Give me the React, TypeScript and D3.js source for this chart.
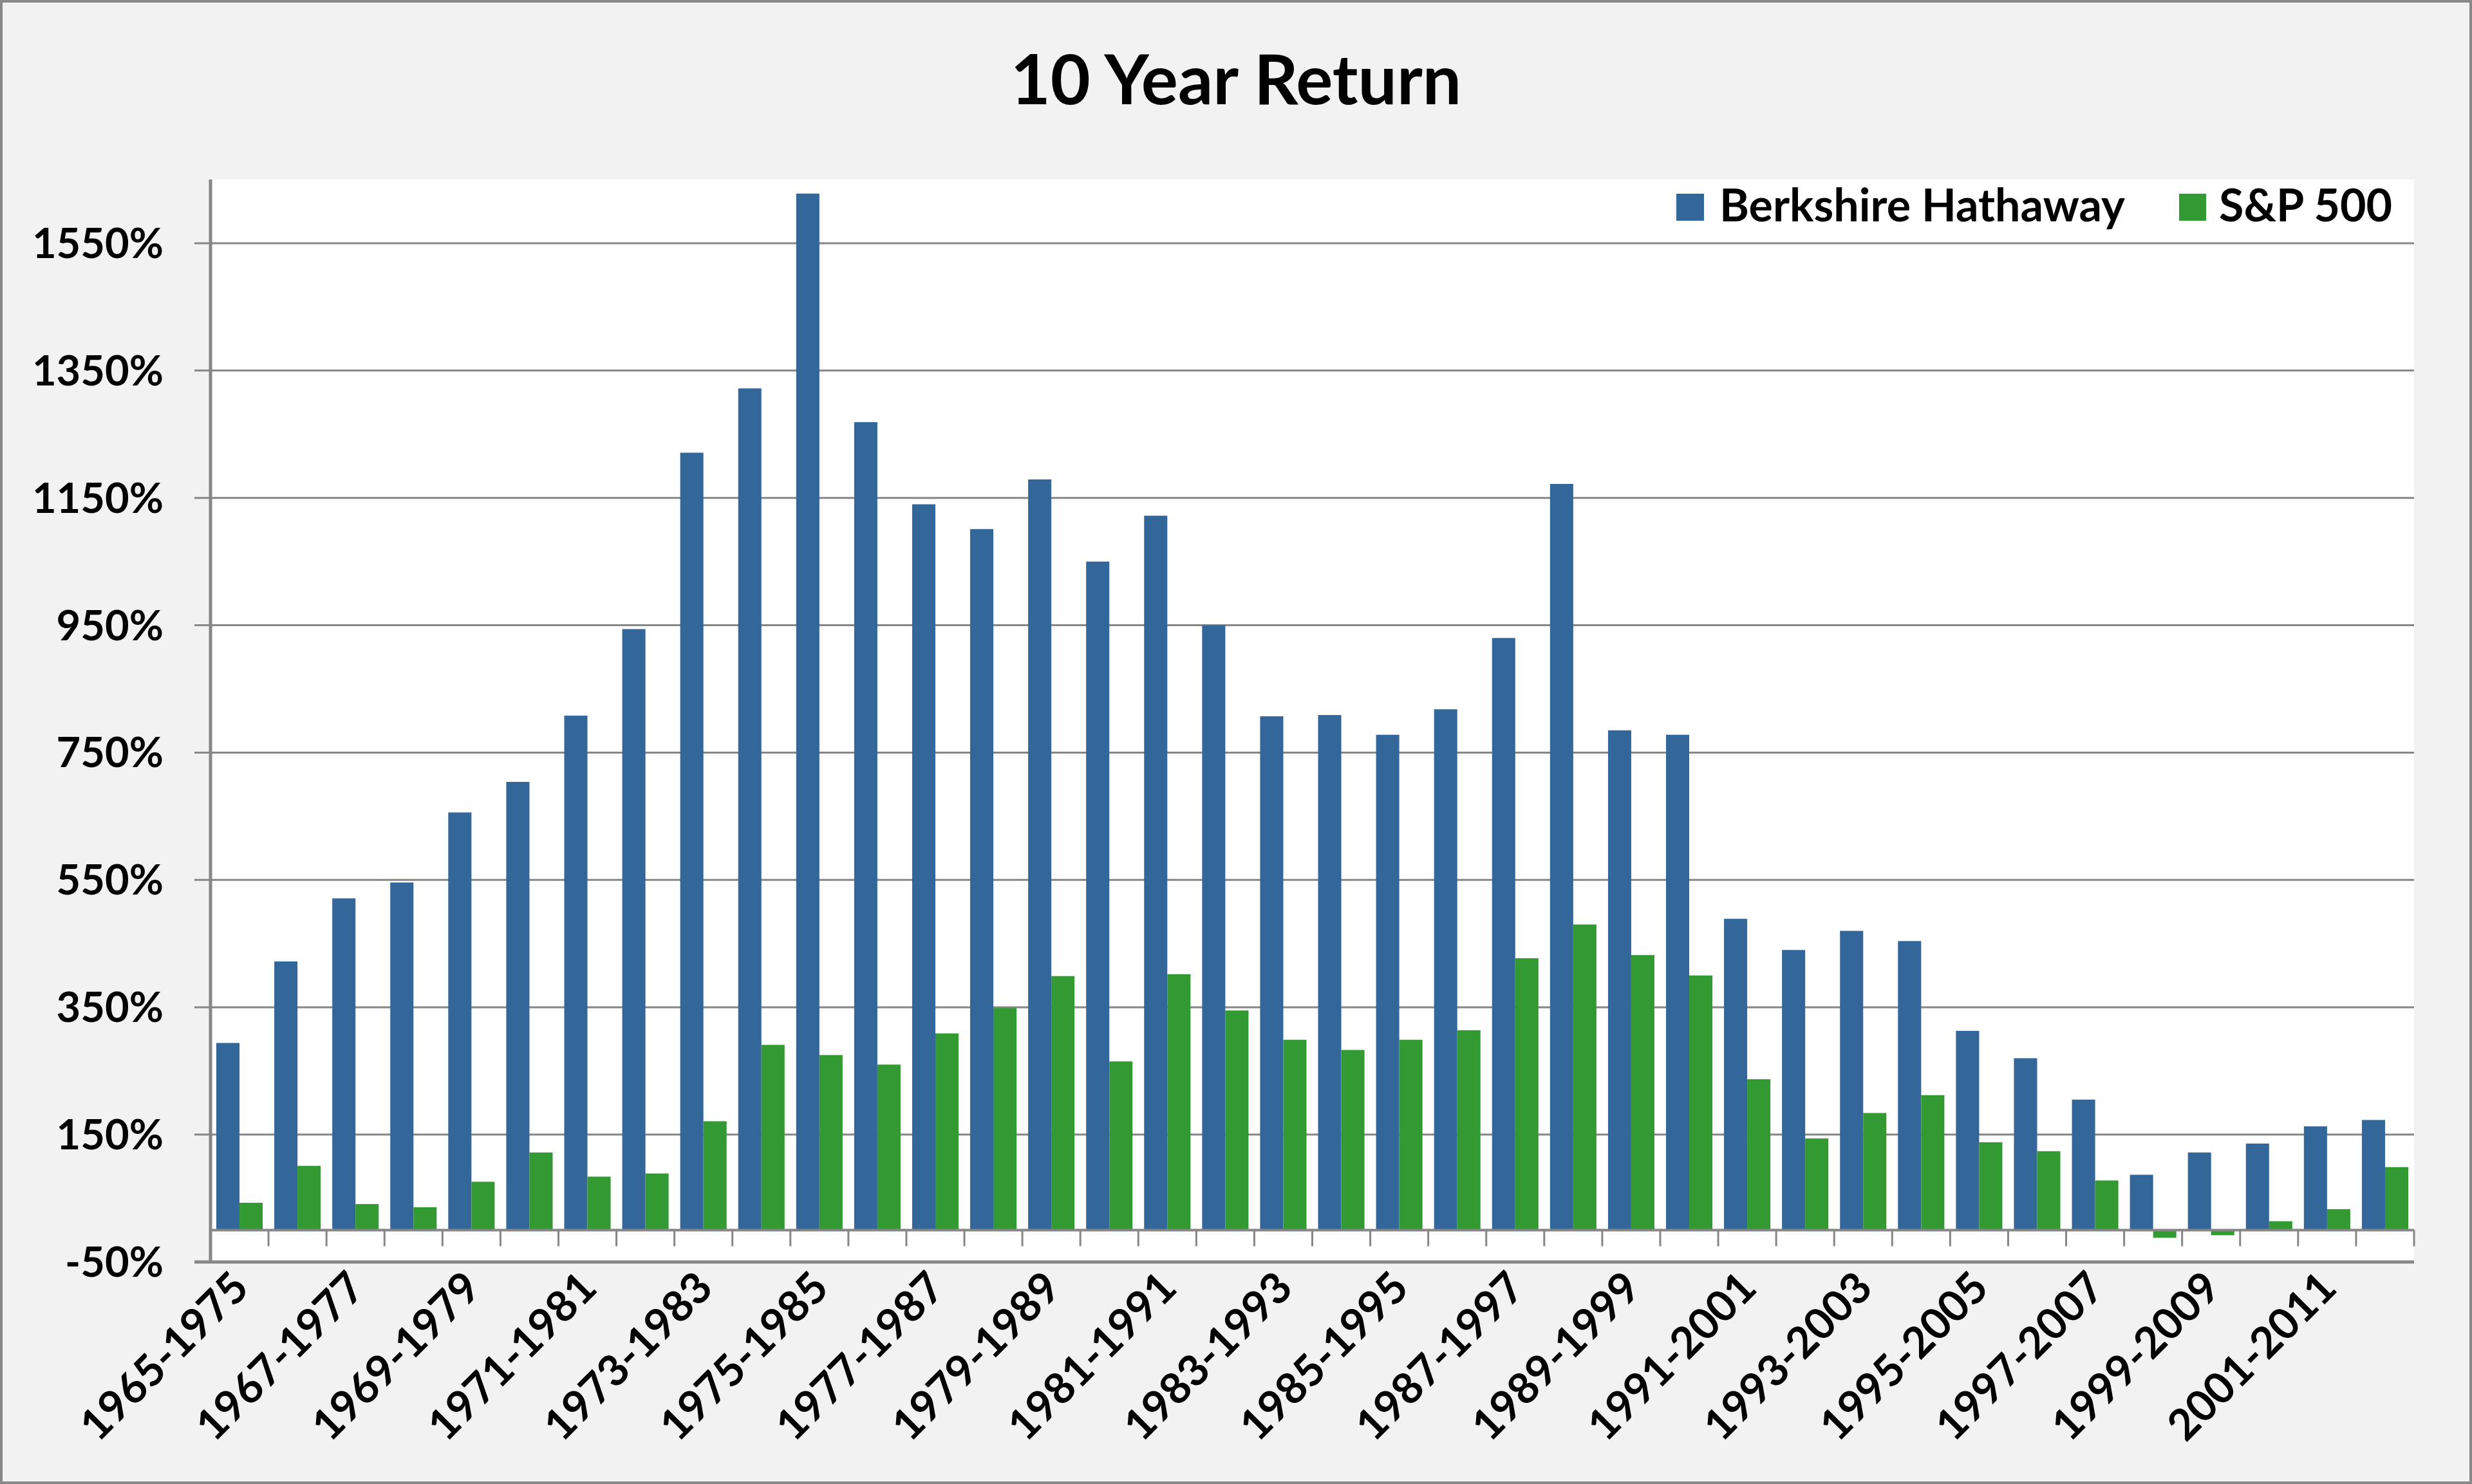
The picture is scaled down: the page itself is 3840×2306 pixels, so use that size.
import React from 'react';
import * as d3 from 'd3';

const categories = [
  '1965-1975', '1966-1976', '1967-1977', '1968-1978', '1969-1979', '1970-1980',
  '1971-1981', '1972-1982', '1973-1983', '1974-1984', '1975-1985', '1976-1986',
  '1977-1987', '1978-1988', '1979-1989', '1980-1990', '1981-1991', '1982-1992',
  '1983-1993', '1984-1994', '1985-1995', '1986-1996', '1987-1997', '1988-1998',
  '1989-1999', '1990-2000', '1991-2001', '1992-2002', '1993-2003', '1994-2004',
  '1995-2005', '1996-2006', '1997-2007', '1998-2008', '1999-2009', '2000-2010',
  '2001-2011', '2002-2012',
];

const berkshire = [
  294, 422, 521, 546, 656, 704, 808, 944, 1221, 1322, 1628, 1269, 1140,
  1101, 1179, 1050, 1122, 950, 807, 809, 778, 818, 930, 1172, 785, 778,
  489, 440, 470, 454, 313, 270, 205, 87, 122, 136, 163, 173,
];

const sp500 = [
  43, 101, 41, 36, 76, 122, 84, 89, 171, 291, 275, 260, 309,
  349, 399, 265, 402, 345, 299, 283, 299, 314, 427, 480, 432, 400,
  237, 144, 184, 212, 138, 124, 78, -12, -8, 14, 33, 99,
];

const yTicks = [-50, 150, 350, 550, 750, 950, 1150, 1350, 1550];
const seriesNames = ['Berkshire Hathaway', 'S&P 500'];
const seriesColors = ['#336699', '#339933'];
const titleText = '10 Year Return';

const W = 3840;
const H = 2306;
const FONT = "Lato, 'Noto Sans', sans-serif";

export default function App() {
  const left = 327;
  const right = 3750;
  const top = 279;
  const bottom = 1961;

  const x0 = d3.scaleBand<string>().domain(categories).range([left, right]).paddingInner(0).paddingOuter(0);
  const bw = x0.bandwidth();
  const x1 = d3.scaleBand<string>().domain(seriesNames).range([bw * 0.1, bw * 0.9]).padding(0);
  const y = d3.scaleLinear().domain([-50, 1650]).range([bottom, top]);
  const y0 = y(0);

  const series = [berkshire, sp500];
  const grid = '#868686';

  return (
    <svg width={W} height={H} style={{ position: 'absolute', left: 0, top: 0, display: 'block' }}>
      <rect x={2} y={2} width={W - 4} height={H - 4} fill="#f2f2f2" stroke="#888888" strokeWidth={4} />
      <text x={1920} y={162} textAnchor="middle" fontFamily={FONT} fontWeight="bold" fontSize={107} fill="#000">
        {titleText}
      </text>

      <rect x={left} y={top} width={right - left} height={bottom - top} fill="#ffffff" />

      {yTicks.map((t) => (
        <g key={t}>
          <line x1={left - 25} x2={right} y1={y(t)} y2={y(t)} stroke={grid} strokeWidth={t === -50 ? 5 : 3} />
          <text x={254} y={y(t) + 23} textAnchor="end" fontFamily={FONT} fontWeight="bold" fontSize={65} fill="#000">
            {t}%
          </text>
        </g>
      ))}

      {categories.map((c, i) => (
        <g key={c}>
          {series.map((s, si) => {
            const v = s[i];
            const yy = y(v);
            return (
              <rect
                key={si}
                x={(x0(c) as number) + (x1(seriesNames[si]) as number)}
                y={Math.min(yy, y0)}
                width={x1.bandwidth()}
                height={Math.abs(y0 - yy)}
                fill={seriesColors[si]}
              />
            );
          })}
        </g>
      ))}

      <line x1={left} x2={right} y1={y0} y2={y0} stroke={grid} strokeWidth={4} />
      {categories.map((c) => (
        <line key={'t' + c} x1={(x0(c) as number) + bw} x2={(x0(c) as number) + bw} y1={y0} y2={y0 + 25} stroke={grid} strokeWidth={3} />
      ))}
      <line x1={left} x2={left} y1={top} y2={bottom + 2} stroke={grid} strokeWidth={5} />

      {categories.map((c, i) =>
        i % 2 === 0 ? (
          <text
            key={'l' + c}
            transform={`translate(${(x0(c) as number) + bw / 2 + 18},${bottom + 44}) rotate(-45)`}
            textAnchor="end"
            fontFamily={FONT}
            fontWeight="bold"
            fontSize={67}
            fill="#000"
          >
            {c}
          </text>
        ) : null
      )}

      <rect x={2604} y={301} width={43} height={42} fill={seriesColors[0]} />
      <text x={2671} y={344} fontFamily={FONT} fontWeight="bold" fontSize={70} fill="#000">
        {seriesNames[0]}
      </text>
      <rect x={3385} y={301} width={42} height={42} fill={seriesColors[1]} />
      <text x={3447} y={344} fontFamily={FONT} fontWeight="bold" fontSize={70} fill="#000">
        {seriesNames[1]}
      </text>
    </svg>
  );
}
